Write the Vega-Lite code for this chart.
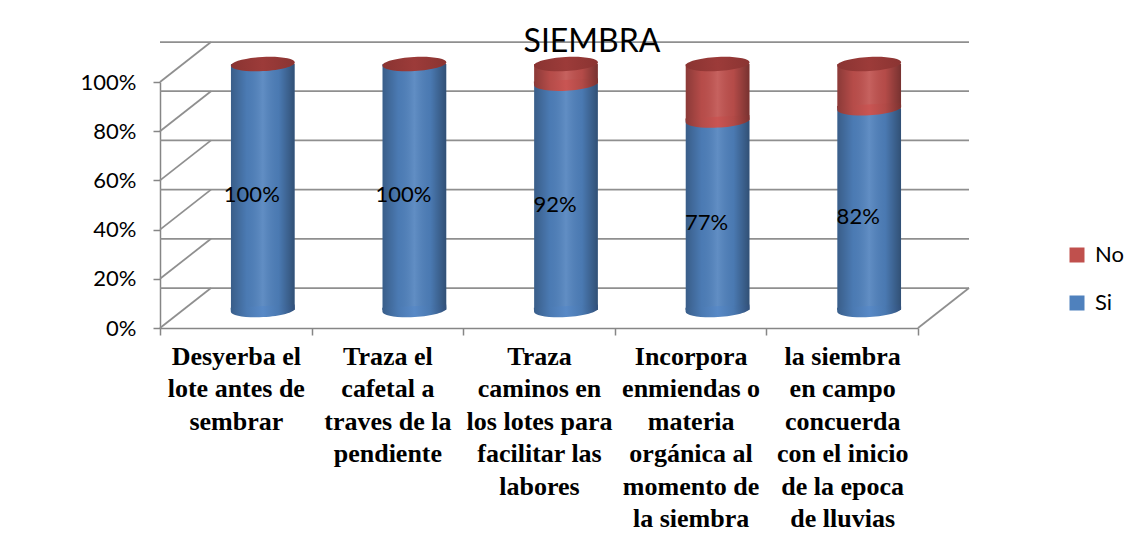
{
  "$schema": "https://vega.github.io/schema/vega-lite/v6.json",
  "width": 758,
  "height": 246,
  "autosize": {"type": "none"},
  "padding": {"left": 160, "top": 82, "right": 220, "bottom": 216},
  "background": "white",
  "datasets": {
    "main": [
      {"cat": "Desyerba el\nlote antes de\nsembrar", "Si": 1, "No": 0},
      {"cat": "Traza el\ncafetal a\ntraves de la\npendiente", "Si": 1, "No": 0},
      {"cat": "Traza\ncaminos en\nlos lotes para\nfacilitar las\nlabores", "Si": 0.92, "No": 0.08},
      {"cat": "Incorpora\nenmiendas o\nmateria\norgánica al\nmomento de\nla siembra", "Si": 0.77, "No": 0.23},
      {"cat": "la siembra\nen campo\nconcuerda\ncon el inicio\nde la epoca\nde lluvias", "Si": 0.82, "No": 0.18}
    ],
    "ticks": [{"t": 0}, {"t": 0.2}, {"t": 0.4}, {"t": 0.6}, {"t": 0.8}, {"t": 1}]
  },
  "title": {
    "text": "SIEMBRA",
    "font": "Lato",
    "fontSize": 32,
    "fontWeight": "normal",
    "color": "black",
    "anchor": "middle",
    "frame": "group",
    "dx": 53,
    "dy": 18,
    "offset": 0
  },
  "layer": [
    {
      "data": {"name": "ticks"},
      "mark": {"type": "rule", "color": "#8F8F8F", "strokeWidth": 1.75, "xOffset": 51, "x2Offset": 51, "yOffset": -40, "y2Offset": -40},
      "encoding": {
        "y": {"field": "t", "type": "quantitative", "scale": {"domain": [0, 1]}, "axis": null}
      }
    },
    {
      "data": {"name": "ticks"},
      "mark": {"type": "rule", "color": "#8F8F8F", "strokeWidth": 1.75, "x2Offset": 51, "y2Offset": -40},
      "encoding": {
        "x": {"value": 0},
        "x2": {"value": 0},
        "y": {"field": "t", "type": "quantitative", "scale": {"domain": [0, 1]}, "axis": null},
        "y2": {"field": "t"}
      }
    },
    {
      "data": {"values": [{"t": 0}]},
      "mark": {"type": "rule", "color": "#8F8F8F", "strokeWidth": 1.75, "x2Offset": 51, "y2Offset": -40},
      "encoding": {
        "x": {"value": "width"},
        "x2": {"value": "width"},
        "y": {"field": "t", "type": "quantitative", "scale": {"domain": [0, 1]}, "axis": null},
        "y2": {"field": "t"}
      }
    },
    {
      "data": {"name": "main"},
      "transform": [{"fold": ["Si", "No"], "as": ["serie", "pct"]}],
      "mark": {"type": "bar", "width": {"band": 0.42}, "xOffset": 27, "x2Offset": 27, "yOffset": -18, "y2Offset": -18},
      "encoding": {
        "x": {
          "field": "cat", "type": "nominal", "sort": null, "title": null,
          "scale": {"paddingInner": 0, "paddingOuter": 0},
          "axis": {
            "title": null, "labelAngle": 0,
            "labelExpr": "split(datum.label, '\\n')",
            "labelFont": "Liberation Serif", "labelFontWeight": "bold", "labelFontSize": 26,
            "labelLineHeight": 32.5, "labelColor": "black", "labelPadding": 8,
            "labelOverlap": false, "labelBound": false, "labelLimit": 0, "labelBaseline": "top",
            "tickBand": "extent", "tickSize": 7, "tickColor": "#868686", "tickWidth": 1.5,
            "domainColor": "#868686", "domainWidth": 1.5
          }
        },
        "y": {
          "field": "pct", "type": "quantitative", "stack": "zero",
          "scale": {"domain": [0, 1]},
          "axis": {
            "title": null, "values": [0, 0.2, 0.4, 0.6, 0.8, 1], "format": ".0%", "grid": false,
            "domainColor": "#868686", "domainWidth": 1.5, "tickColor": "#868686", "tickWidth": 1.5,
            "tickSize": 7, "labelFont": "Lato", "labelFontSize": 22, "labelColor": "black", "labelPadding": 17
          }
        },
        "color": {
          "field": "serie", "type": "nominal",
          "scale": {"domain": ["No", "Si"], "range": ["#C0504D", "#4F81BD"]},
          "legend": {
            "title": null, "orient": "none", "legendX": 906, "legendY": 162,
            "symbolType": "square", "symbolSize": 225, "symbolStrokeWidth": 0,
            "labelFont": "Lato", "labelFontSize": 22, "labelColor": "black",
            "labelOffset": 7, "rowPadding": 26, "padding": 0
          }
        },
        "order": {"field": "serie", "sort": "descending"}
      }
    },
    {
      "data": {"name": "main"},
      "transform": [{"fold": ["Si", "No"], "as": ["serie", "pct"]}],
      "mark": {
        "type": "bar", "width": {"band": 0.42}, "xOffset": 27, "x2Offset": 27, "yOffset": -18, "y2Offset": -18,
        "fill": {
          "gradient": "linear", "x1": 0, "y1": 0, "x2": 1, "y2": 0,
          "stops": [
            {"offset": 0, "color": "rgba(0,0,0,0.28)"},
            {"offset": 0.25, "color": "rgba(0,0,0,0.05)"},
            {"offset": 0.5, "color": "rgba(255,255,255,0.10)"},
            {"offset": 0.75, "color": "rgba(0,0,0,0.06)"},
            {"offset": 1, "color": "rgba(0,0,0,0.38)"}
          ]
        }
      },
      "encoding": {
        "x": {"field": "cat", "type": "nominal", "sort": null, "title": null},
        "y": {"field": "pct", "type": "quantitative", "stack": "zero", "scale": {"domain": [0, 1]}, "axis": null},
        "detail": {"field": "serie"},
        "order": {"field": "serie", "sort": "descending"}
      }
    },
    {
      "data": {"name": "main"},
      "mark": {
        "type": "point", "shape": "M-1,-0.12L-1,0A1,0.22,0,0,0,1,0L1,-0.12Z", "size": 4096,
        "filled": true, "opacity": 1, "strokeWidth": 0, "xOffset": 27, "yOffset": -18, "angle": -3,
        "fill": {
          "gradient": "linear", "x1": 0, "y1": 0, "x2": 1, "y2": 0,
          "stops": [
            {"offset": 0, "color": "#395E8A"},
            {"offset": 0.25, "color": "#4B7AB3"},
            {"offset": 0.5, "color": "#5889C6"},
            {"offset": 0.75, "color": "#4A79B1"},
            {"offset": 1, "color": "#31507A"}
          ]
        }
      },
      "encoding": {
        "x": {"field": "cat", "type": "nominal", "sort": null, "title": null},
        "y": {"datum": 0, "type": "quantitative", "scale": {"domain": [0, 1]}, "axis": null}
      }
    },
    {
      "data": {"name": "main"},
      "transform": [{"filter": "datum.No > 0"}],
      "mark": {
        "type": "point", "shape": "M-1,-0.12L-1,0A1,0.22,0,0,0,1,0L1,-0.12Z", "size": 4096,
        "filled": true, "opacity": 1, "strokeWidth": 0, "xOffset": 27, "yOffset": -18, "angle": -3,
        "fill": {
          "gradient": "linear", "x1": 0, "y1": 0, "x2": 1, "y2": 0,
          "stops": [
            {"offset": 0, "color": "#8B3A38"},
            {"offset": 0.25, "color": "#B54C49"},
            {"offset": 0.5, "color": "#C95553"},
            {"offset": 0.75, "color": "#B24A47"},
            {"offset": 1, "color": "#7C3230"}
          ]
        }
      },
      "encoding": {
        "x": {"field": "cat", "type": "nominal", "sort": null, "title": null},
        "y": {"field": "Si", "type": "quantitative", "scale": {"domain": [0, 1]}, "axis": null}
      }
    },
    {
      "data": {"name": "main"},
      "mark": {
        "type": "point", "shape": "M-1,0A1,0.22,0,1,0,1,0A1,0.22,0,1,0,-1,0Z", "size": 4096,
        "filled": true, "opacity": 1, "strokeWidth": 0, "xOffset": 27, "yOffset": -18, "angle": -3,
        "fill": {
          "gradient": "linear", "x1": 0, "y1": 0, "x2": 1, "y2": 0,
          "stops": [
            {"offset": 0, "color": "#8A3432"},
            {"offset": 0.5, "color": "#9C3B39"},
            {"offset": 1, "color": "#8A3432"}
          ]
        }
      },
      "encoding": {
        "x": {"field": "cat", "type": "nominal", "sort": null, "title": null},
        "y": {"datum": 1, "type": "quantitative", "scale": {"domain": [0, 1]}, "axis": null}
      }
    },
    {
      "data": {"name": "main"},
      "mark": {"type": "text", "font": "Lato", "fontSize": 22, "color": "black", "align": "center", "baseline": "middle", "xOffset": 16, "yOffset": -10},
      "encoding": {
        "x": {"field": "cat", "type": "nominal", "sort": null, "title": null},
        "y": {"field": "Si", "type": "quantitative", "scale": {"domain": [0, 2]}, "axis": null},
        "text": {"field": "Si", "type": "quantitative", "format": ".0%"}
      }
    }
  ],
  "resolve": {"scale": {"y": "independent"}, "axis": {"y": "independent"}},
  "config": {
    "view": {"stroke": null},
    "font": "Lato"
  }
}
